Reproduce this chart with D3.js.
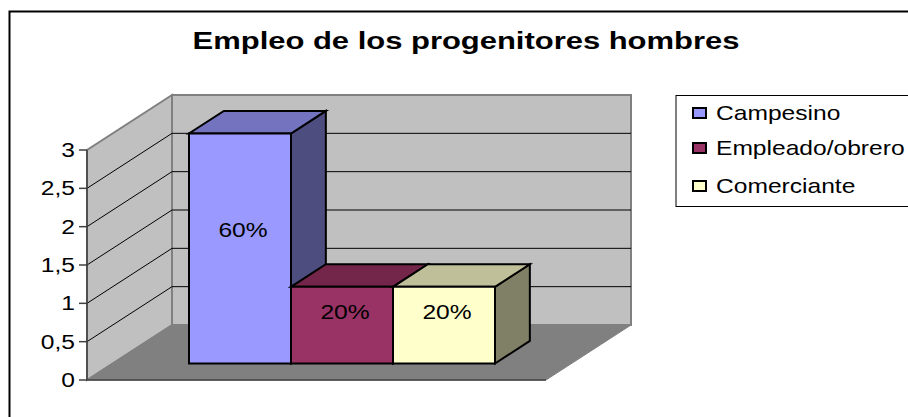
<!DOCTYPE html>
<html>
<head>
<meta charset="utf-8">
<script src="https://cdn.jsdelivr.net/npm/d3@7"></script>
<style>
html, body { margin: 0; padding: 0; background: #fff; }
svg { display: block; }
text { font-family: "Liberation Sans", Arial, sans-serif; fill: #000; }
</style>
</head>
<body>
<svg id="chart" width="908" height="417"></svg>
<script>
const titleText = "Empleo de los progenitores hombres";
const seriesNames = ["Campesino", "Empleado/obrero", "Comerciante"];
const seriesValues = [3, 1, 1];
const seriesLabels = ["60%", "20%", "20%"];
const seriesColors = ["#9999ff", "#993366", "#ffffcc"];
const topColors = ["#7373bf", "#732649", "#bfbf99"];
const sideColors = ["#4d4d80", "#4d1a33", "#808066"];
const yTicks = [0, 0.5, 1, 1.5, 2, 2.5, 3];

const svg = d3.select("#chart");

// the original picture is stretched sideways, so the text is too
const textStretch = 1.2;
const titleStretch = 1.29;

// front plane of the 3d box
const x = d3.scaleBand().domain(seriesNames).range([87, 546]).paddingInner(0).paddingOuter(0.75);
const y = d3.scaleLinear().domain([0, 3]).range([380, 150]);

// depth: 0 = front of the floor, 1 = back wall
const depthX = d3.scaleLinear().domain([0, 1]).range([0, 85]);
const depthY = d3.scaleLinear().domain([0, 1]).range([0, -55]);
const barDepth = [0.30, 0.71];

function pt(px, value, d) {
    return [px + depthX(d), y(value) + depthY(d)];
}

function poly(points, fill, stroke, width) {
    svg.append("polygon")
        .attr("points", points.map(p => p.join(",")).join(" "))
        .attr("fill", fill)
        .attr("stroke", stroke)
        .attr("stroke-width", width)
        .attr("stroke-linejoin", "miter");
}

function line(a, b, stroke, width) {
    svg.append("line")
        .attr("x1", a[0]).attr("y1", a[1])
        .attr("x2", b[0]).attr("y2", b[1])
        .attr("stroke", stroke)
        .attr("stroke-width", width);
}

function label(px, py, str, size, anchor, stretch = textStretch) {
    return svg.append("text")
        .attr("transform", `translate(${px},${py}) scale(${stretch},1)`)
        .attr("text-anchor", anchor)
        .attr("font-size", size)
        .text(str);
}

const x0 = x.range()[0], x1 = x.range()[1];
const yMin = y.domain()[0], yMax = y.domain()[1];

// outer frame, runs off the right and bottom of the picture
svg.append("rect")
    .attr("x", 9.5).attr("y", 11.5)
    .attr("width", 1000).attr("height", 1000)
    .attr("fill", "#fff")
    .attr("stroke", "#000")
    .attr("stroke-width", 2);

label(466, 49, titleText, 24, "middle", titleStretch).attr("font-weight", "bold");

// walls and floor
poly([pt(x0, yMin, 1), pt(x1, yMin, 1), pt(x1, yMax, 1), pt(x0, yMax, 1)], "#c0c0c0", "#808080", 2);
poly([pt(x0, yMin, 0), pt(x0, yMin, 1), pt(x0, yMax, 1), pt(x0, yMax, 0)], "#c0c0c0", "#808080", 2);
poly([pt(x0, yMin, 0), pt(x1, yMin, 0), pt(x1, yMin, 1), pt(x0, yMin, 1)], "#808080", "#808080", 1);

// gridlines
yTicks.filter(t => t > yMin && t < yMax).forEach(t => {
    line(pt(x0, t, 0), pt(x0, t, 1), "#000", 1);
    line(pt(x0, t, 1), pt(x1, t, 1), "#000", 1);
});

// axis
line(pt(x0, yMin, 0), pt(x0, yMax, 0), "#404040", 1.5);
line(pt(x0, yMin, 0), pt(x1, yMin, 0), "#404040", 1.5);
yTicks.forEach(t => {
    line([x0 - 8, y(t)], [x0, y(t)], "#404040", 1.5);
    label(x0 - 12, y(t) + 7, String(t).replace(".", ","), 20.5, "end");
});

// bars go left to right so each one covers the side of the previous
seriesNames.forEach((name, i) => {
    const v = seriesValues[i];
    const l = x(name), r = x(name) + x.bandwidth();
    const d0 = barDepth[0], d1 = barDepth[1];
    poly([pt(r, 0, d0), pt(r, 0, d1), pt(r, v, d1), pt(r, v, d0)], sideColors[i], "#000", 2);
    poly([pt(l, v, d0), pt(r, v, d0), pt(r, v, d1), pt(l, v, d1)], topColors[i], "#000", 2);
    poly([pt(l, 0, d0), pt(r, 0, d0), pt(r, v, d0), pt(l, v, d0)], seriesColors[i], "#000", 2);
});

// value labels sit a bit above the middle of the front face
seriesNames.forEach((name, i) => {
    const v = seriesValues[i];
    const c = pt(x(name) + x.bandwidth() / 2, v / 2, barDepth[0]);
    label(c[0] + 3, c[1] - (10 + 3 * v) + 7, seriesLabels[i], 20.5, "middle");
});

// legend
svg.append("rect")
    .attr("x", 676).attr("y", 95.5)
    .attr("width", 300).attr("height", 111)
    .attr("fill", "#fff")
    .attr("stroke", "#000")
    .attr("stroke-width", 1);

const legendY = d3.scaleOrdinal().domain(seriesNames).range([113, 148, 186]);
seriesNames.forEach((name, i) => {
    svg.append("rect")
        .attr("x", 693).attr("y", legendY(name) - 5)
        .attr("width", 13).attr("height", 10)
        .attr("fill", seriesColors[i])
        .attr("stroke", "#000")
        .attr("stroke-width", 2);
    label(716, legendY(name) + 6.5, name, 20.5, "start");
});
</script>
</body>
</html>
